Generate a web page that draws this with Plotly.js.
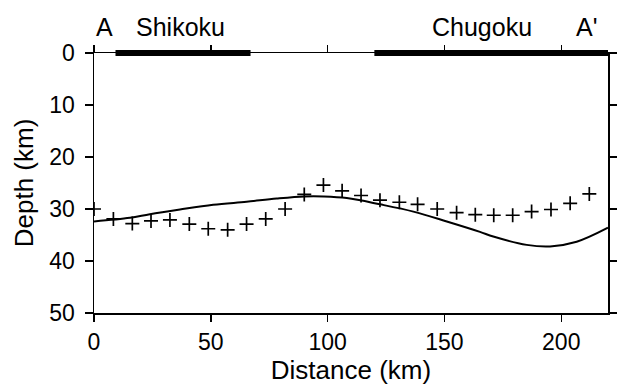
<!DOCTYPE html>
<html>
<head>
<meta charset="utf-8">
<script src="https://cdn.plot.ly/plotly-3.0.1.min.js"></script>
<style>html,body{margin:0;padding:0;background:#fff;}#chart{width:617px;height:387px;}</style>
</head>
<body>
<div id="chart"></div>
<script>
// Observed depths (crosses)
const obsDistance = [0, 8.3, 16.4, 24.4, 32.5, 40.8, 48.9, 57.2, 65.3, 73.5, 81.8, 90.0, 98.2, 106.2, 114.3, 122.4, 130.7, 138.5, 146.9, 155.2, 163.2, 171.1, 179.2, 187.3, 195.6, 203.8, 212.0];
const obsDepth    = [30.0, 31.9, 32.8, 32.3, 32.1, 32.9, 33.8, 34.0, 32.9, 31.9, 30.0, 27.2, 25.4, 26.5, 27.4, 28.3, 28.7, 29.1, 30.0, 30.7, 31.1, 31.2, 31.2, 30.5, 30.1, 28.9, 27.1];
// Model curve
const modelDistance = [0, 15.4, 23.9, 36.8, 51.0, 65.3, 78.2, 90.0, 98.2, 108.2, 122.4, 136.7, 151.0, 165.2, 170.9, 185.2, 195.2, 206.6, 220];
const modelDepth    = [32.4, 31.7, 31.0, 30.1, 29.2, 28.6, 28.0, 27.6, 27.6, 27.9, 29.1, 30.5, 32.4, 34.4, 35.3, 36.9, 37.2, 36.3, 33.6];
// Land segments along the profile (km)
const landNames = ["Shikoku", "Chugoku"];
const landStart = [9.2, 120];
const landEnd   = [67, 220];
// Profile end labels
const endLabels = ["A", "A'"];
const endLabelPos = [4.3, 211];
const landLabelPos = [37, 166];
const xTicks = [0, 50, 100, 150, 200];
const yTicks = [0, 10, 20, 30, 40, 50];

const font = "Liberation Sans, Arial, Helvetica, sans-serif";

const traces = [
  {x: modelDistance, y: modelDepth, mode: 'lines', line: {color: '#000', width: 2, shape: 'spline', smoothing: 1}, hoverinfo: 'skip'},
  {x: obsDistance, y: obsDepth, mode: 'markers', cliponaxis: false,
   marker: {symbol: 'cross-thin', size: 10, line: {color: '#000', width: 1.7}}, hoverinfo: 'skip'}
];

const shapes = landStart.map((s, i) => ({
  type: 'line', xref: 'x', yref: 'paper', x0: s, x1: landEnd[i], y0: 1, y1: 1,
  line: {color: '#000', width: 6}, layer: 'above'
}));

const annotations = [];
const labFont = {family: font, size: 25, color: '#000'};
endLabels.forEach((t, i) => annotations.push({text: t, x: endLabelPos[i], xref: 'x', y: 1.1, yref: 'paper', yanchor: 'middle', xanchor: 'center', showarrow: false, font: labFont}));
landNames.forEach((t, i) => annotations.push({text: t, x: landLabelPos[i], xref: 'x', y: 1.1, yref: 'paper', yanchor: 'middle', xanchor: 'center', showarrow: false, font: labFont}));

const layout = {
  width: 617, height: 387,
  margin: {l: 94, r: 9, t: 53, b: 74},
  paper_bgcolor: '#fff', plot_bgcolor: '#fff',
  showlegend: false,
  font: {family: font, color: '#000', size: 22},
  xaxis: {
    range: [0, 220], tickvals: xTicks, ticks: 'outside', ticklen: 7, tickwidth: 1.5, tickcolor: '#000',
    showline: true, linecolor: '#000', linewidth: 1.5, mirror: 'ticks', showgrid: false, zeroline: false,
    tickfont: {size: 23}, ticklabelstandoff: 1,
    title: {text: 'Distance (km)', font: {size: 26}, standoff: 4}
  },
  yaxis: {
    range: [50, 0], tickvals: yTicks, ticks: 'outside', ticklen: 8, tickwidth: 1.5, tickcolor: '#000',
    showline: true, linecolor: '#000', linewidth: 1.5, mirror: 'ticks', showgrid: false, zeroline: false,
    tickfont: {size: 23}, ticklabelstandoff: 5,
    title: {text: 'Depth (km)', font: {size: 26}, standoff: 8}
  },
  shapes: shapes,
  annotations: annotations
};

Plotly.newPlot('chart', traces, layout, {staticPlot: true, displayModeBar: false});
</script>
</body>
</html>
